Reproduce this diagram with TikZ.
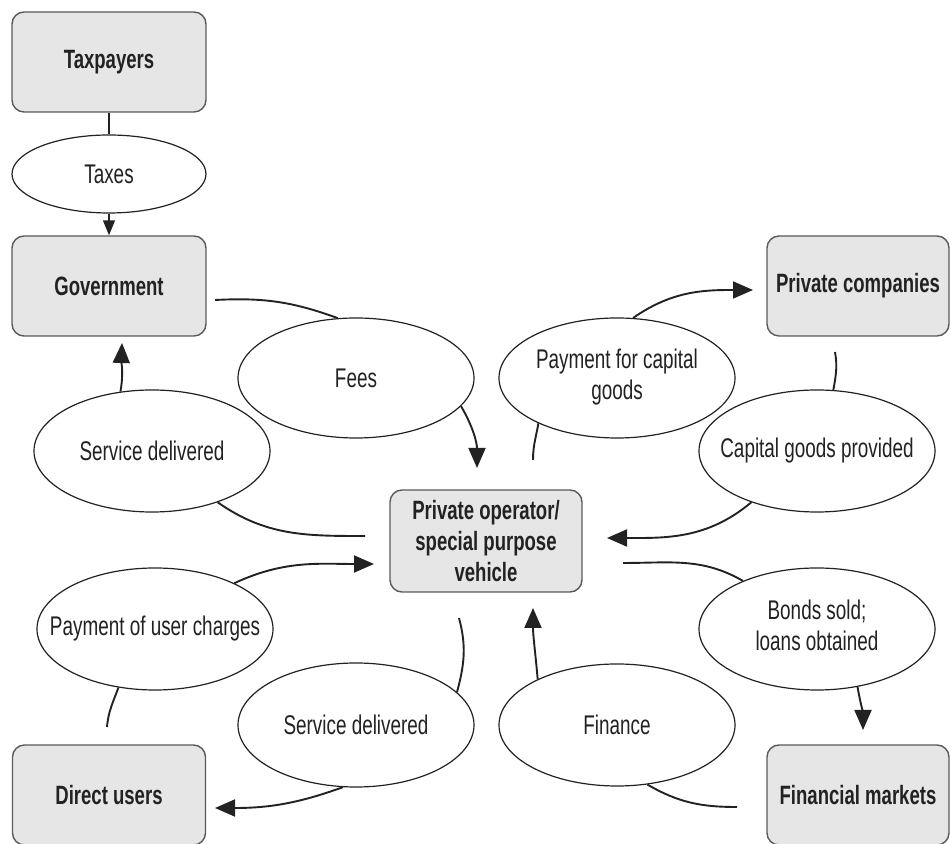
\documentclass[tikz,border=0pt]{standalone}
\usepackage{fontspec}
\setmainfont{Liberation Sans}[FakeStretch=0.70]
\usetikzlibrary{shapes.geometric,arrows.meta}
\definecolor{boxfill}{HTML}{E6E6E6}
\definecolor{boxline}{HTML}{5A5A5A}
\definecolor{ink}{HTML}{222222}
\newcommand{\zw}[1]{\makebox[0pt][c]{#1}}
\begin{document}
\begin{tikzpicture}[x=1pt,y=1pt,
  every node/.style={font=\fontsize{27}{31}\selectfont, text=ink},
  box/.style={draw=boxline, line width=1.4pt, fill=boxfill, rounded corners=12pt,
    minimum width=194pt, minimum height=100pt, inner sep=0pt,
    font=\fontsize{26.5}{31}\selectfont\bfseries, align=center},
  ell/.style={ellipse, draw=ink, line width=1.2pt, fill=white,
    minimum width=236pt, minimum height=122pt, inner sep=0pt},
  flow/.style={line width=1.9pt, draw=ink},
  arr/.style={flow, -{Triangle[length=20pt,width=17pt]}},
  thinflow/.style={line width=1.5pt, draw=ink},
]
\useasboundingbox (0,0) rectangle (950,843);

% boxes
\node[box] (tax) at (109,781) {Taxpayers};
\node[box] (gov) at (109,557) {Government};
\node[box, minimum width=182pt] (pc) at (858,557) {Private companies};
\node[box, minimum width=193pt] (du) at (109,48) {Direct users};
\node[box, minimum width=182pt] (fm) at (858,48) {Financial markets};
\node[box, minimum width=192pt, minimum height=102pt] (ctr) at (486,302)
  {Private operator/\\special purpose\\vehicle};

% ellipses
\node[ell, minimum width=194pt, minimum height=78pt] (taxes) at (109,669) {\zw{Taxes}};
\node[ell, minimum height=120pt] (fees) at (356,465) {\zw{Fees}};
\node[ell] (sd1) at (152,392) {\zw{Service delivered}};
\node[ell, minimum height=120pt] (pay) at (617,465)
  {\zw{\begin{tabular}{@{}c@{}}Payment for capital\\goods\end{tabular}}};
\node[ell] (cgp) at (817,392) {\zw{Capital goods provided}};
\node[ell] (puc) at (155,214) {\zw{Payment of user charges}};
\node[ell] (bonds) at (817,214)
  {\zw{\begin{tabular}{@{}c@{}}Bonds sold;\\loans obtained\end{tabular}}};
\node[ell, minimum height=124pt] (sd2) at (356,118) {\zw{Service delivered}};
\node[ell] (fin) at (617,118) {\zw{Finance}};

% free ends
\coordinate (g1) at (215,543);
\coordinate (t1) at (477,375);
\coordinate (c2) at (365,307);
\coordinate (t2) at (122,500);
\coordinate (c3) at (533,383);
\coordinate (t3) at (753,553);
\coordinate (p4) at (835,491);
\coordinate (t4) at (607,305);
\coordinate (c5) at (623,280);
\coordinate (t5) at (863,113);
\coordinate (f6) at (737,36);
\coordinate (t6) at (533,235);
\coordinate (d7) at (107,116);
\coordinate (t7) at (374,279);
\coordinate (c8) at (459,225);
\coordinate (t8) at (215,35);

% taxes
\draw[thinflow] (tax) -- (taxes);
\draw[thinflow, -{Triangle[length=15pt,width=12pt]}] (taxes) -- (gov);

% government / fees
\draw[flow] (g1) to[out=3,in=160] (fees.107);
\draw[arr] (fees.-15) to[out=-60,in=90] (t1);
% service delivered to government
\draw[flow] (c2) to[out=180,in=-35] (sd1.-38);
\draw[arr] (sd1.118) to[out=80,in=-92] (t2);
% payment for capital goods
\draw[flow] (c3) to[out=90,in=-100] (pay.210);
\draw[arr] (pay.75) to[out=35,in=180] (t3);
% capital goods provided
\draw[flow] (p4) to[out=-80,in=80] (cgp.75);
\draw[arr] (cgp.218) to[out=-140,in=0] (t4);
% bonds
\draw[flow] (c5) to[out=0,in=150] (bonds.147);
\draw[arr] (bonds.-55) to[out=-80,in=90] (t5);
% finance
\draw[flow] (f6) to[out=180,in=-30] (fin.-63);
\draw[arr] (fin.150) to[out=95,in=-90] (t6);
% payment of user charges
\draw[flow] (d7) to[out=85,in=-110] (puc.-122);
\draw[arr] (puc.30) to[out=25,in=180] (t7);
% service delivered to users
\draw[flow] (c8) to[out=-75,in=75] (sd2.18);
\draw[arr] (sd2.-102) to[out=-160,in=0] (t8);
\end{tikzpicture}
\end{document}
